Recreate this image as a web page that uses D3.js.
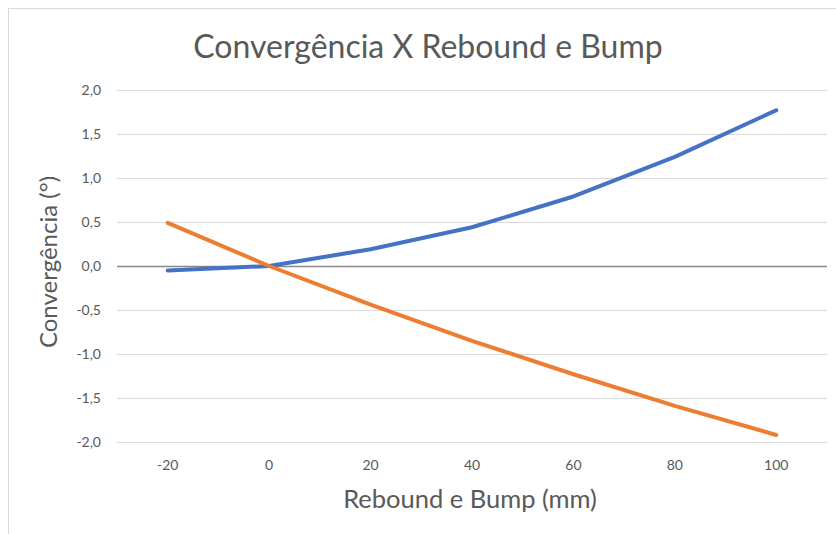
<!DOCTYPE html>
<html>
<head>
<meta charset="utf-8">
<script src="https://cdn.jsdelivr.net/npm/d3@7"></script>
<style>
  html, body { margin: 0; padding: 0; background: #fff; }
  svg { display: block; }
  text { font-family: Lato, "Open Sans", sans-serif; fill: #595959; }
</style>
</head>
<body>
<svg id="chart" width="836" height="534"></svg>
<script>
// Deslocamento da suspensão (mm)
const categories = [-20, 0, 20, 40, 60, 80, 100];
// Convergência (°) para cada roda
const seriesBlue = [-0.05, 0, 0.19, 0.44, 0.79, 1.24, 1.77];
const seriesOrange = [0.49, 0, -0.44, -0.85, -1.23, -1.59, -1.92];
const yTicks = [-2, -1.5, -1, -0.5, 0, 0.5, 1, 1.5, 2];

const title = "Convergência X Rebound e Bump";
const xTitle = "Rebound e Bump (mm)";
const yTitle = "Convergência (°)";

const W = 836, H = 534;
const plot = { left: 117, right: 827, top: 90, bottom: 442 };

const svg = d3.select("#chart");

// chart frame
svg.append("rect")
  .attr("x", 8.5).attr("y", 8.5)
  .attr("width", W + 10).attr("height", H + 10)
  .attr("fill", "#fff").attr("stroke", "#d9d9d9").attr("stroke-width", 1);

const x = d3.scaleBand()
  .domain(categories)
  .range([plot.left, plot.right]);

const y = d3.scaleLinear()
  .domain([-2, 2])
  .range([plot.bottom, plot.top]);

const fmt = v => d3.format(".1f")(v).replace(".", ",").replace("−", "-");

// horizontal gridlines + value labels
const yAxis = d3.axisLeft(y)
  .tickValues(yTicks)
  .tickSize(-(plot.right - plot.left))
  .tickPadding(16)
  .tickFormat(fmt);

const gy = svg.append("g")
  .attr("transform", `translate(${plot.left},0)`)
  .call(yAxis);
gy.select(".domain").remove();
gy.selectAll(".tick line")
  .attr("stroke", d => d === 0 ? "#898989" : "#d9d9d9")
  .attr("stroke-width", d => d === 0 ? 1.6 : 1);
gy.selectAll(".tick text")
  .attr("font-size", 14)
  .style("fill", "#595959");

// category labels
const xAxis = d3.axisBottom(x)
  .tickSize(0)
  .tickPadding(0)
  .tickFormat(d => String(d));
const gx = svg.append("g")
  .attr("transform", `translate(0,${plot.bottom + 18})`)
  .call(xAxis);
gx.select(".domain").remove();
gx.selectAll(".tick text")
  .attr("font-size", 14)
  .style("fill", "#595959");

// lines
const line = d3.line()
  .x((d, i) => x(categories[i]) + x.bandwidth() / 2)
  .y(d => y(d));

svg.append("path")
  .datum(seriesBlue)
  .attr("d", line)
  .attr("fill", "none")
  .attr("stroke", "#4472C4")
  .attr("stroke-width", 4)
  .attr("stroke-linecap", "round")
  .attr("stroke-linejoin", "round");

svg.append("path")
  .datum(seriesOrange)
  .attr("d", line)
  .attr("fill", "none")
  .attr("stroke", "#ED7D31")
  .attr("stroke-width", 4)
  .attr("stroke-linecap", "round")
  .attr("stroke-linejoin", "round");

// titles
svg.append("text")
  .attr("x", 428).attr("y", 58)
  .attr("text-anchor", "middle")
  .attr("font-size", 32)
  .text(title);

svg.append("text")
  .attr("x", 470).attr("y", 508)
  .attr("text-anchor", "middle")
  .attr("font-size", 25.5)
  .text(xTitle);

svg.append("text")
  .attr("transform", "translate(57,262) rotate(-90)")
  .attr("text-anchor", "middle")
  .attr("font-size", 24)
  .text(yTitle);
</script>
</body>
</html>
